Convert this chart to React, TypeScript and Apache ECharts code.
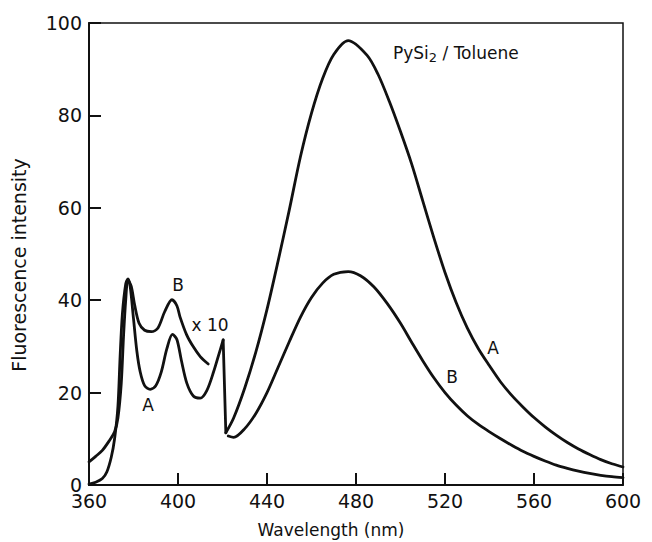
import React, { useEffect, useRef } from "react";
import * as echarts from "echarts";

// Sample A, x10 region (360 – 420 nm)
const waveAx10 = [360, 363, 366, 368, 370, 371.5, 373, 374, 375, 376.5, 377.5, 378.5, 380, 381.5, 383, 385, 387.5, 390, 392.5, 395, 397.5, 399.5, 401.5, 404, 407, 410, 413, 416, 418.5, 420.3];
const intAx10 = [0.2, 0.6, 1.4, 2.8, 6, 10, 17, 28, 37, 43.5, 44.6, 43, 36, 29, 24.5, 21.5, 20.7, 21.5, 24.5, 29.5, 32.6, 31.5, 27, 22, 19.2, 18.8, 20.5, 24.5, 28.5, 31.4];

// Sample A, scale change drop
const waveAdrop = [420.3, 421.5];
const intAdrop = [31.4, 11.3];

// Sample A, main band
const waveA = [421.5, 425, 430, 435, 440, 445, 450, 455, 460, 465, 470, 476.5, 485, 490, 495, 500, 505, 510, 515, 520, 525, 530, 535, 540, 545, 550, 555, 560, 565, 570, 575, 580, 585, 590, 595, 600];
const intA = [11.3, 14.5, 21, 28.8, 38, 48.5, 59.5, 71, 80.5, 88, 93.2, 96.2, 93, 88.8, 83, 76.5, 69.5, 61.5, 53.5, 46, 39.5, 34, 29.5, 25.8, 22.3, 19.4, 16.9, 14.6, 12.6, 10.8, 9.2, 7.8, 6.6, 5.5, 4.6, 3.9];

// Sample B, x10 region (ends at ~413 nm)
const waveBx10 = [360, 363, 366, 369, 371.5, 373, 374.5, 375.5, 376.5, 377.5, 379, 380.5, 382.5, 385, 388, 391, 394, 397.3, 399.5, 400.9, 403.9, 406.9, 410, 413.6];
const intBx10 = [5, 6.2, 7.5, 9.5, 11.5, 14.5, 22, 32, 40, 44.4, 43, 39, 35, 33.5, 33.2, 34, 37.5, 40.1, 38.8, 36.4, 32.5, 29.9, 27.8, 26.2];

// Sample B, main band
const waveB = [422.6, 425, 430, 435, 440, 445, 450, 455, 460, 465, 470, 476.5, 482, 488, 494, 500, 505, 510, 515, 520, 525, 530, 535, 540, 545, 550, 555, 560, 565, 570, 575, 580, 585, 590, 595, 600];
const intB = [10.6, 10.3, 12.2, 15.5, 20, 25.5, 31, 36.3, 40.6, 43.7, 45.6, 46.2, 45.3, 42.9, 39.3, 35, 30.9, 26.9, 23.2, 20, 17.3, 15, 13.1, 11.5, 10, 8.6, 7.3, 6.2, 5.2, 4.3, 3.6, 3.0, 2.5, 2.1, 1.8, 1.6];

const xTicks = [360, 400, 440, 480, 520, 560, 600];
const yTicks = [0, 20, 40, 60, 80, 100];

const FONT = "'DejaVu Sans', sans-serif";
const INK = "#111";

const zip = (xs: number[], ys: number[]) => xs.map((x, i) => [x, ys[i]]);

export default function App() {
  const ref = useRef<HTMLDivElement>(null);
  useEffect(() => {
    if (!ref.current) return;
    const chart = echarts.init(ref.current, undefined, { renderer: "svg" });
    const lineStyle = { color: INK, width: 2.8, cap: "round", join: "round" };
    const mkSeries = (name: string, data: number[][], smooth: number) => ({
      name,
      type: "line",
      data,
      showSymbol: false,
      symbol: "none",
      smooth,
      lineStyle,
      itemStyle: { color: INK },
    });
    const txt = (text: string, x: number, y: number, size = 17, extra: any = {}) => ({
      type: "text",
      x,
      y,
      style: {
        text,
        fill: INK,
        font: `${size}px ${FONT}`,
        textAlign: "center",
        textVerticalAlign: "middle",
        ...extra,
      },
    });
    chart.setOption({
      animation: false,
      backgroundColor: "#fff",
      grid: {
        left: 89,
        right: 29,
        top: 23,
        bottom: 57,
        show: true,
        borderColor: INK,
        borderWidth: 1.5,
      },
      xAxis: {
        type: "value",
        min: 360,
        max: 600,
        interval: 40,
        axisLine: { show: true, lineStyle: { color: INK, width: 2 } },
        axisTick: { show: true, inside: true, length: 12, lineStyle: { color: INK, width: 2 } },
        axisLabel: {
          color: INK,
          fontSize: 19,
          fontFamily: FONT,
          margin: 6,
          customValues: xTicks,
        },
        splitLine: { show: false },
      },
      yAxis: {
        type: "value",
        min: 0,
        max: 100,
        interval: 20,
        axisLine: { show: true, lineStyle: { color: INK, width: 2 } },
        axisTick: { show: true, inside: true, length: 12, lineStyle: { color: INK, width: 2 } },
        axisLabel: {
          color: INK,
          fontSize: 19,
          fontFamily: FONT,
          margin: 7,
          customValues: yTicks,
        },
        splitLine: { show: false },
      },
      series: [
        mkSeries("A x10", zip(waveAx10, intAx10), 0.3),
        mkSeries("A drop", zip(waveAdrop, intAdrop), 0),
        mkSeries("A", zip(waveA, intA), 0.3),
        mkSeries("B x10", zip(waveBx10, intBx10), 0.3),
        mkSeries("B", zip(waveB, intB), 0.3),
      ],
      graphic: [
        txt("Wavelength (nm)", 331, 530, 17),
        {
          type: "text",
          x: 19,
          y: 265,
          rotation: Math.PI / 2,
          style: {
            text: "Fluorescence intensity",
            fill: INK,
            font: `19px ${FONT}`,
            textAlign: "center",
            textVerticalAlign: "middle",
          },
        },
        {
          type: "text",
          x: 393,
          y: 53,
          style: {
            text: "{n|PySi}{s|2}{n| / Toluene}",
            fill: INK,
            textVerticalAlign: "middle",
            rich: {
              n: { fontSize: 17, fontFamily: FONT, fill: INK },
              s: { fontSize: 13, fontFamily: FONT, fill: INK, padding: [8, 0, 0, 0] },
            },
          },
        },
        txt("B", 178, 285),
        txt("x 10", 210, 325),
        txt("A", 148, 405),
        txt("A", 493, 348),
        txt("B", 452, 377),
      ],
    });
    return () => chart.dispose();
  }, []);
  return (
    <div
      ref={ref}
      style={{ position: "fixed", left: 0, top: 0, width: 652, height: 542, background: "#fff" }}
    />
  );
}
